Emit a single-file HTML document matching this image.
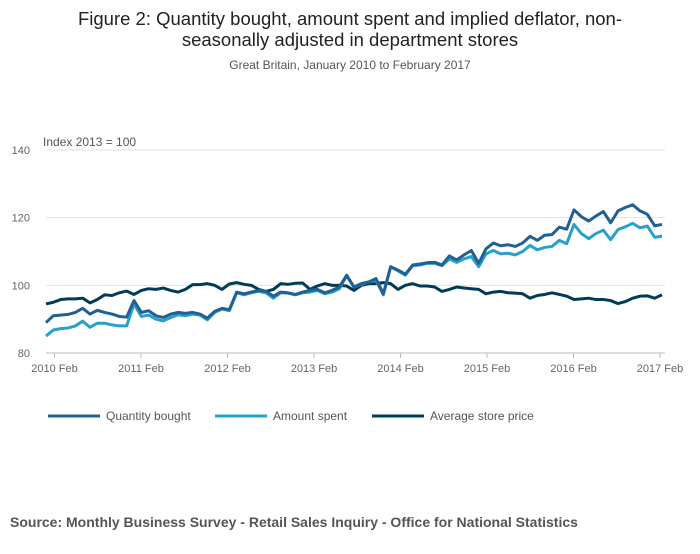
<!DOCTYPE html>
<html><head><meta charset="utf-8"><style>
body{margin:0;width:700px;height:549px;background:#fff;font-family:"Liberation Sans",sans-serif;overflow:hidden}
</style></head><body>
<svg width="700" height="549" font-family="Liberation Sans, sans-serif">
<text x="350" y="25" text-anchor="middle" font-size="18.5" fill="#222">Figure 2: Quantity bought, amount spent and implied deflator, non-</text>
<text x="350" y="46" text-anchor="middle" font-size="18.5" fill="#222">seasonally adjusted in department stores</text>
<text x="350" y="69" text-anchor="middle" font-size="12" fill="#555">Great Britain, January 2010 to February 2017</text>
<text x="43" y="146" font-size="12" fill="#555">Index 2013 = 100</text>
<g id="grid"></g><g id="lines"></g>
<g>
<line x1="48" y1="416" x2="100" y2="416" stroke="#206095" stroke-width="3"/><text x="106" y="420" font-size="12" fill="#555">Quantity bought</text>
<line x1="215" y1="416" x2="267" y2="416" stroke="#27a0cc" stroke-width="3"/><text x="273" y="420" font-size="12" fill="#555">Amount spent</text>
<line x1="372" y1="416" x2="424" y2="416" stroke="#003c57" stroke-width="3"/><text x="430" y="420" font-size="12" fill="#555">Average store price</text>
</g>
<text x="10" y="527" font-size="14" font-weight="bold" fill="#555">Source: Monthly Business Survey - Retail Sales Inquiry - Office for National Statistics</text>
</svg>
<script>
const yTicks=[80,100,120,140];
const xTickLabels=["2010 Feb","2011 Feb","2012 Feb","2013 Feb","2014 Feb","2015 Feb","2016 Feb","2017 Feb"];
const quantity=[89,91,91.2,91.4,92,93.2,91.5,92.6,92,91.5,90.8,90.6,95.5,92,92.5,91,90.5,91.5,92,91.7,92,91.5,90.3,92.3,93.2,92.8,98,97.5,98,98.5,98.2,96.8,98,97.8,97.3,98,98.5,98.8,97.8,98.5,99.5,103,99.5,100.5,101,102,97.5,105.5,104.5,103.3,106,106.3,106.7,106.8,106,108.7,107.5,109,110.3,106.5,110.8,112.5,111.7,112,111.5,112.5,114.5,113.3,114.8,115,117.2,116.6,122.3,120.3,119,120.5,121.8,118.5,122,123,123.8,122,121,117.6,118];
const amount=[85,86.8,87.2,87.4,88,89.4,87.6,88.8,88.8,88.3,88,88,94.5,90.8,91.2,90,89.5,90.5,91.3,91,91.5,91.2,89.8,92,93,92.5,97.8,97.2,97.8,98.2,97.8,96.2,97.8,97.7,97.2,97.8,98,98.5,97.5,98,99,102.8,99.5,100.3,101,101.5,97.2,105.5,104.3,103,105.8,106,106.5,106.5,105.8,107.8,106.8,107.8,108.5,105.5,109.3,110.3,109.3,109.5,109,110,111.8,110.5,111.2,111.5,113.3,112.3,118,115.3,113.8,115.3,116.3,113.5,116.5,117.3,118.3,117,117.5,114.2,114.5];
const price=[94.5,95,95.8,96,96,96.2,94.8,95.8,97.2,97,97.8,98.3,97.3,98.5,99,98.8,99.2,98.5,98,98.8,100.2,100.2,100.5,100,98.8,100.4,100.8,100.3,100,98.8,98.2,98.8,100.5,100.3,100.6,100.7,98.8,99.8,100.5,100,100,99.8,98.5,100,100.5,100.5,100.8,100.5,98.8,100,100.5,99.8,99.8,99.5,98.2,98.8,99.5,99.2,99,98.8,97.5,98,98.2,97.8,97.7,97.5,96.2,97,97.3,97.8,97.3,96.8,95.8,96,96.2,95.8,95.8,95.5,94.6,95.2,96.2,96.8,96.9,96.2,97.2];
const X0=46,X1=662,Y0=353,Y1=150;
const xs=i=>X0+(X1-X0)*i/84;
const tickX=k=>54.5+86.5*k;
const ys=v=>Y0-(v-80)/60*(Y0-Y1);
const NS="http://www.w3.org/2000/svg";
const g=document.getElementById('grid'),L=document.getElementById('lines');
function mk(tag,at,p){const e=document.createElementNS(NS,tag);for(const k in at)e.setAttribute(k,at[k]);p.appendChild(e);return e;}
yTicks.forEach(v=>{
 const ln=mk('line',{x1:X0,x2:665,y1:ys(v),y2:ys(v),stroke:v===80?'#bbb':'#e2e2e2','stroke-width':1},g);
 
 
 const t=mk('text',{x:30,y:ys(v)+4,'text-anchor':'end','font-size':11,fill:'#666'},g);t.textContent=v;
 
 
});
xTickLabels.forEach((s,k)=>{
 const x=tickX(k);
 mk('line',{x1:x,x2:x,y1:Y0,y2:Y0+5,stroke:'#bbb'},g);
 const t=mk('text',{x:x,y:372,'text-anchor':'middle','font-size':11,fill:'#666'},g);t.textContent=s;
 
 
});
[[price,'#003c57','line-average-store-price'],[amount,'#27a0cc','line-amount-spent'],[quantity,'#206095','line-quantity-bought']].forEach(([d,c,n])=>{
 const p=mk('polyline',{points:d.map((v,i)=>xs(i)+','+ys(v)).join(' '),fill:'none',stroke:c,'stroke-width':3,'stroke-linejoin':'round'},L);
 
 
});
</script>
</body></html>
